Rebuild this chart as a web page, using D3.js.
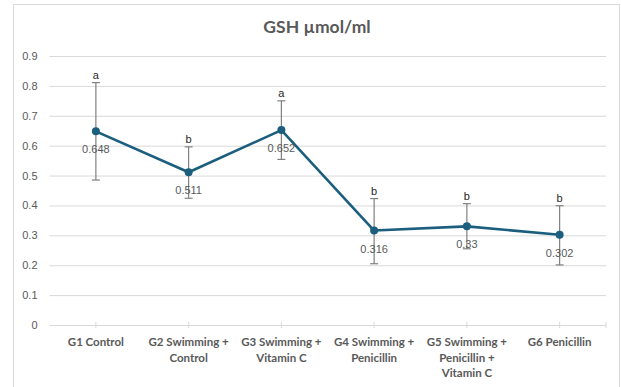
<!DOCTYPE html>
<html>
<head>
<meta charset="utf-8">
<script src="https://cdn.jsdelivr.net/npm/d3@7/dist/d3.min.js"></script>
<style>
  html, body { margin: 0; padding: 0; background: #fff; }
  svg { display: block; }
</style>
</head>
<body>
<svg id="chart" width="621" height="387"></svg>
<script>
// GSH levels per group, with SD error bars and significance letters
const groups = [
  ["G1 Control"],
  ["G2 Swimming +", "Control"],
  ["G3 Swimming +", "Vitamin C"],
  ["G4 Swimming +", "Penicillin"],
  ["G5 Swimming +", "Penicillin +", "Vitamin C"],
  ["G6 Penicillin"]
];
const gsh = [0.648, 0.511, 0.652, 0.316, 0.33, 0.302];
const errUp = [0.163, 0.085, 0.098, 0.107, 0.076, 0.097];
const errDown = [0.163, 0.087, 0.098, 0.111, 0.075, 0.101];
const letters = ["a", "b", "a", "b", "b", "b"];
const yTicks = [0, 0.1, 0.2, 0.3, 0.4, 0.5, 0.6, 0.7, 0.8, 0.9];

const svg = d3.select("#chart");
const plot = { left: 49.5, right: 606, top: 56, bottom: 325 };

// chart frame
svg.append("rect")
  .attr("x", 13.5).attr("y", 4.5)
  .attr("width", 606).attr("height", 400)
  .attr("fill", "#fff").attr("stroke", "#d9d9d9").attr("stroke-width", 1);

svg.append("text")
  .attr("x", 317).attr("y", 32.5)
  .attr("text-anchor", "middle")
  .attr("font-family", "Lato, 'Open Sans', sans-serif")
  .attr("font-weight", "bold")
  .attr("font-size", 17.5)
  .attr("fill", "#595959")
  .text("GSH µmol/ml");

const x = d3.scaleBand()
  .domain(d3.range(groups.length))
  .range([plot.left, plot.right]);
const cx = i => x(i) + x.bandwidth() / 2;

const y = d3.scaleLinear().domain([0, 0.9]).range([plot.bottom, plot.top]);

// horizontal gridlines and y labels
const yAxis = d3.axisLeft(y).tickValues(yTicks).tickSize(-(plot.right - plot.left))
  .tickFormat(d => d === 0 ? "0" : d3.format(".1f")(d));
const ya = svg.append("g").attr("transform", `translate(${plot.left},0)`).call(yAxis);
ya.select(".domain").remove();
ya.selectAll(".tick line").attr("stroke", "#d9d9d9").attr("stroke-width", 1);
ya.selectAll(".tick text")
  .attr("x", -12)
  .attr("font-family", "'Liberation Sans', Arial, sans-serif")
  .attr("font-size", 11)
  .attr("fill", "#595959");

// category axis ticks
const tickXs = d3.range(groups.length).map(cx).concat([plot.right]);
svg.append("g").selectAll("line").data(tickXs).join("line")
  .attr("x1", d => d).attr("x2", d => d)
  .attr("y1", plot.bottom - 3).attr("y2", plot.bottom + 3)
  .attr("stroke", "#d9d9d9").attr("stroke-width", 1);

// category labels
const cat = svg.append("g");
groups.forEach((lines, i) => {
  const t = cat.append("text")
    .attr("x", cx(i)).attr("y", 346)
    .attr("text-anchor", "middle")
    .attr("font-family", "Lato, 'Open Sans', sans-serif")
    .attr("font-weight", "bold")
    .attr("font-size", 11.5)
    .attr("fill", "#595959");
  lines.forEach((s, k) => t.append("tspan")
    .attr("x", cx(i)).attr("dy", k === 0 ? 0 : 15.5).text(s));
});

// error bars
const eb = svg.append("g").attr("stroke", "#808080").attr("stroke-width", 1.2);
gsh.forEach((v, i) => {
  const top = y(v + errUp[i]), bot = y(v - errDown[i]);
  eb.append("line").attr("x1", cx(i)).attr("x2", cx(i)).attr("y1", top).attr("y2", bot);
  eb.append("line").attr("x1", cx(i) - 4).attr("x2", cx(i) + 4).attr("y1", top).attr("y2", top);
  eb.append("line").attr("x1", cx(i) - 4).attr("x2", cx(i) + 4).attr("y1", bot).attr("y2", bot);
});

// series line and markers
const line = d3.line().x((d, i) => cx(i)).y(d => y(d));
svg.append("path").datum(gsh)
  .attr("d", line).attr("fill", "none")
  .attr("stroke", "#1b5e7e").attr("stroke-width", 2.6)
  .attr("stroke-linejoin", "round");
svg.append("g").selectAll("circle").data(gsh).join("circle")
  .attr("cx", (d, i) => cx(i)).attr("cy", d => y(d)).attr("r", 4)
  .attr("fill", "#1b5e7e");

// value labels
svg.append("g").selectAll("text").data(gsh).join("text")
  .attr("x", (d, i) => cx(i)).attr("y", d => y(d) + 22)
  .attr("text-anchor", "middle")
  .attr("font-family", "'Liberation Sans', Arial, sans-serif")
  .attr("font-size", 11)
  .attr("fill", "#595959")
  .text(d => String(d));

// significance letters
svg.append("g").selectAll("text").data(gsh).join("text")
  .attr("x", (d, i) => cx(i)).attr("y", (d, i) => y(d + errUp[i]) - 4)
  .attr("text-anchor", "middle")
  .attr("font-family", "'Liberation Sans', Arial, sans-serif")
  .attr("font-size", 11)
  .attr("fill", "#262626")
  .text((d, i) => letters[i]);
</script>
</body>
</html>
